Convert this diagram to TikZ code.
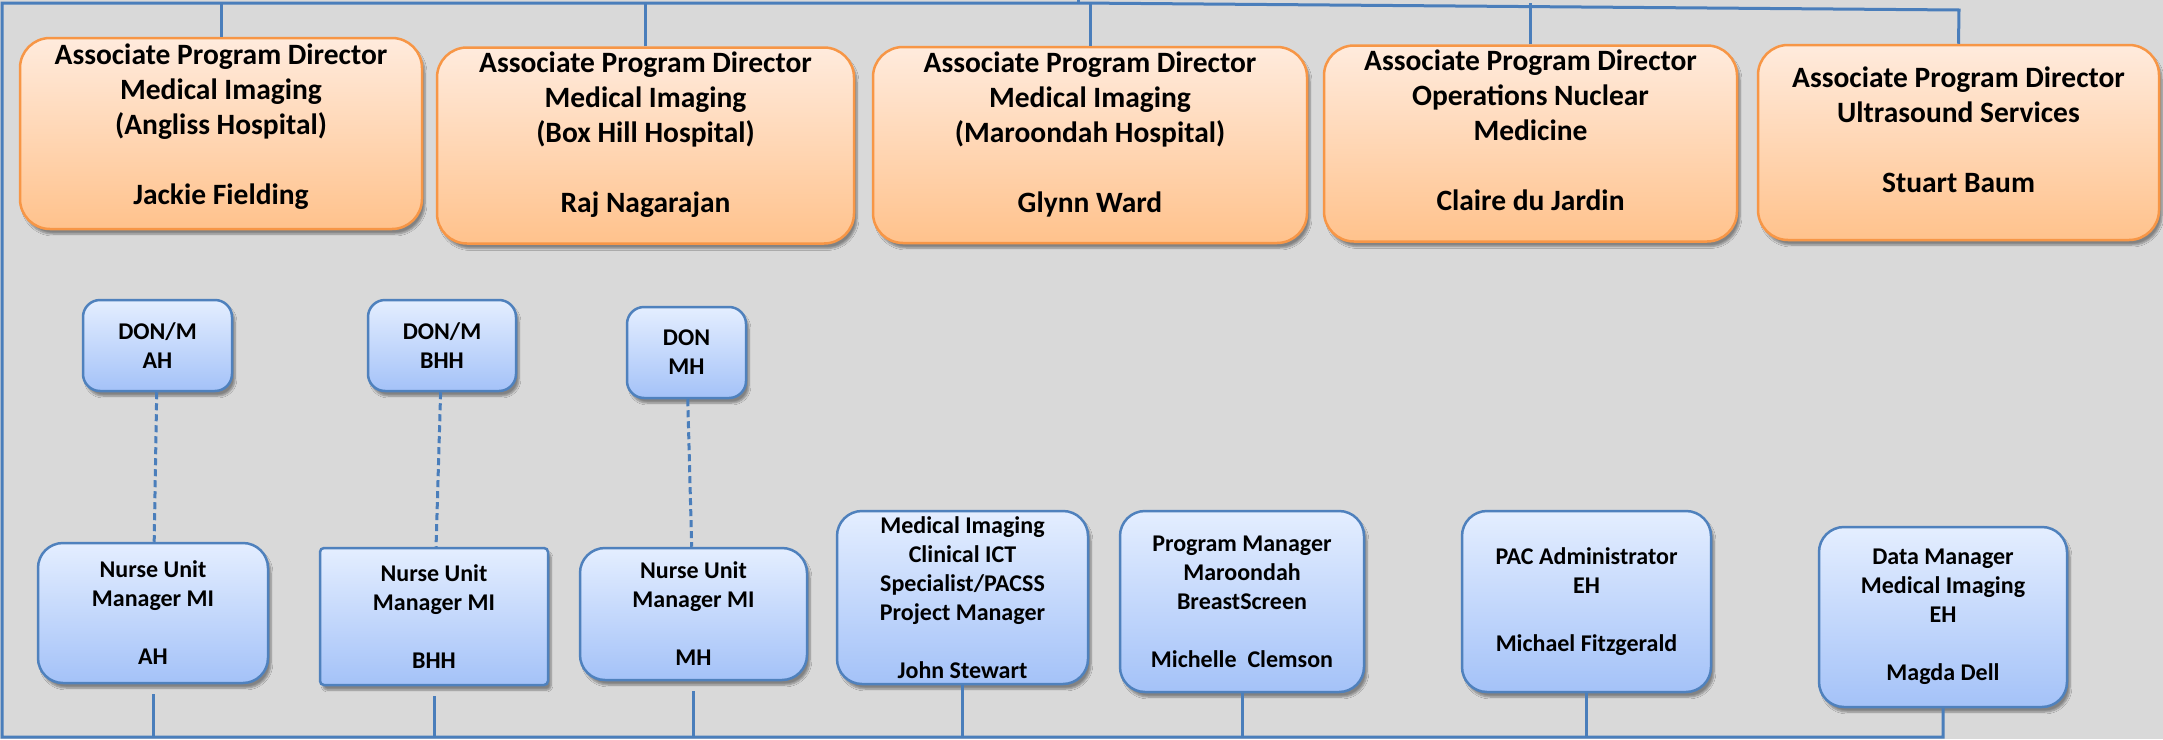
\documentclass[tikz,border=0pt]{standalone}
\usepackage{fontspec}
\setmainfont{Carlito}
\usetikzlibrary{shadows.blur}

\definecolor{pagegrey}{HTML}{D9D9D9}
\definecolor{linkblue}{HTML}{4A7EBB}
\definecolor{dirline}{HTML}{F79646}
\definecolor{dirtop}{HTML}{FFEBDD}
\definecolor{dirbottom}{HTML}{FFC28C}
\definecolor{staffline}{HTML}{4F81BD}
\definecolor{stafftop}{HTML}{E4EEFF}
\definecolor{staffbottom}{HTML}{A4C2F8}

\begin{document}
\begin{tikzpicture}[x=1pt, y=-1pt,
    director/.style={rectangle, rounded corners=30pt, draw=dirline,
        line width=2.5pt, top color=dirtop, bottom color=dirbottom,
        minimum width=412pt, minimum height=196pt, align=center,
        font=\fontsize{29.5}{35}\selectfont\bfseries,
        text depth=26pt,
        blur shadow={shadow xshift=3pt, shadow yshift=-5pt,
            shadow blur steps=6, shadow opacity=40}},
    staff/.style={rectangle, rounded corners=25pt, draw=staffline,
        line width=2.5pt, top color=stafftop, bottom color=staffbottom,
        minimum width=248pt, minimum height=180pt, align=center,
        font=\fontsize{24}{29}\selectfont\bfseries,
        blur shadow={shadow xshift=3pt, shadow yshift=-5pt,
            shadow blur steps=6, shadow opacity=40}},
    don/.style={staff, rounded corners=17pt, minimum height=91pt},
    link/.style={draw=linkblue, line width=3pt},
    dashlink/.style={link, dash pattern=on 7pt off 4pt}
]
    \fill[pagegrey] (0,0) rectangle (2163,739);
    \useasboundingbox (0,0) rectangle (2163,739);

    % directors
    \node[director, minimum width=402pt, minimum height=191pt, text depth=18pt] (dirAH) at (221,133.5)
        {Associate Program Director\\Medical Imaging\\(Angliss Hospital)\\[35pt]Jackie Fielding};
    \node[director, minimum width=417pt] (dirBHH) at (645.5,145.5)
        {Associate Program Director\\Medical Imaging\\(Box Hill Hospital)\\[35pt]Raj Nagarajan};
    \node[director, minimum width=434pt] (dirMH) at (1090,145)
        {Associate Program Director\\Medical Imaging\\(Maroondah Hospital)\\[35pt]Glynn Ward};
    \node[director, minimum width=413pt] (dirNM) at (1530.5,143.5)
        {Associate Program Director\\Operations Nuclear\\Medicine\\[35pt]Claire du Jardin};
    \node[director, minimum width=401pt, minimum height=195pt] (dirUS) at (1958.5,142.5)
        {Associate Program Director\\Ultrasound Services\\[35pt]Stuart Baum};

    % directors of nursing
    \node[don, minimum width=149pt] (donAH) at (157.5,345.5) {DON/M\\AH};
    \node[don, minimum width=148pt] (donBHH) at (442,345.5) {DON/M\\BHH};
    \node[don, minimum width=119pt] (donMH) at (686.5,352.5) {DON\\MH};

    % unit staff
    \node[staff, minimum width=230pt, minimum height=140pt] (numAH) at (153,613)
        {Nurse Unit\\Manager MI\\[29pt]AH};
    \node[staff, rounded corners=4pt, minimum width=228pt, minimum height=137pt] (numBHH) at (434,616.5)
        {Nurse Unit\\Manager MI\\[29pt]BHH};
    \node[staff, minimum width=227pt, minimum height=132pt] (numMH) at (693.5,614)
        {Nurse Unit\\Manager MI\\[29pt]MH};
    \node[staff, minimum width=251pt, minimum height=173pt] (ict) at (962.5,597.5)
        {Medical Imaging\\Clinical ICT\\Specialist/PACSS\\Project Manager\\[29pt]John Stewart};
    \node[staff, minimum width=244pt, minimum height=181pt] (bscreen) at (1242,601.5)
        {Program Manager\\Maroondah\\BreastScreen\\[29pt]Michelle~~Clemson};
    \node[staff, minimum width=249pt, minimum height=181pt] (pac) at (1586.5,601.5)
        {PAC Administrator\\EH\\[29pt]Michael Fitzgerald};
    \node[staff] (data) at (1943,617)
        {Data Manager\\Medical Imaging\\EH\\[29pt]Magda Dell};

    % frame
    \coordinate (hubtop) at (1078,0);
    \coordinate (hub) at (1078,3);
    \coordinate (tl) at (2,3);
    \coordinate (tr) at (1959,10);
    \coordinate (bl) at (2,737);
    \coordinate (br) at (1943,737);

    \draw[link] (hubtop) -- (hub);
    \draw[link] (dirUS.north) -- (tr) -- (hub) -- (tl) -- (bl) -- (br) -- (data.south);
    \foreach \n in {dirAH, dirBHH, dirMH, dirNM}
        \draw[link] (\n.north) -- (\n.north |- tl);
    \foreach \n in {numAH, numBHH, numMH}
        \draw[link, shorten <=10pt] (\n.south) -- (\n.south |- bl);
    \foreach \n in {ict, bscreen, pac}
        \draw[link] (\n.south) -- (\n.south |- bl);
    \foreach \a/\b in {donAH/numAH, donBHH/numBHH, donMH/numMH}
        \draw[dashlink] (\a) -- (\b);
\end{tikzpicture}
\end{document}
